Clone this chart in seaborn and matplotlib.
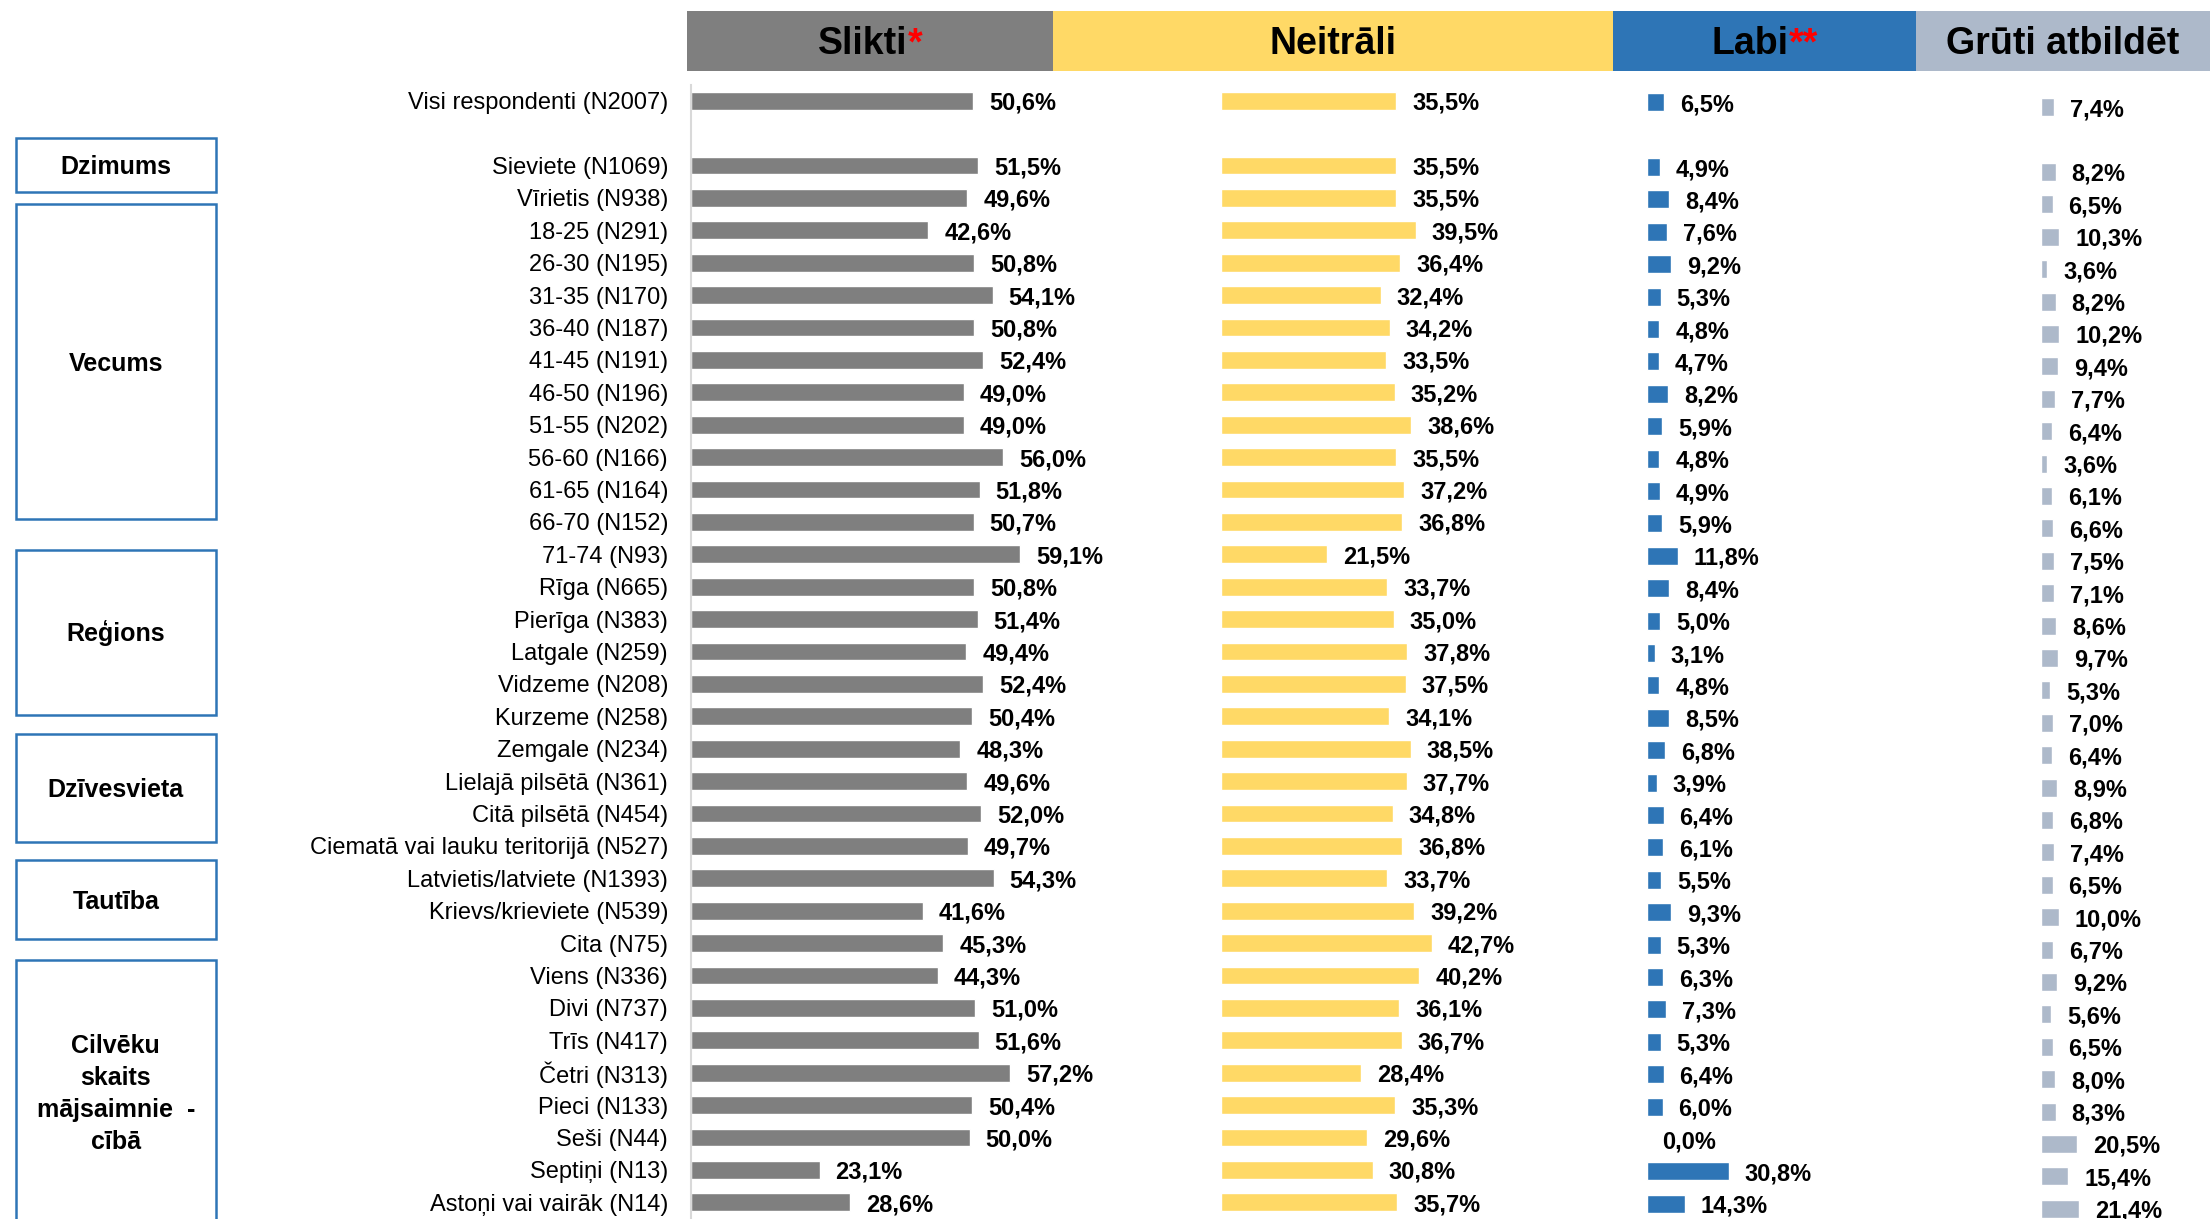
import matplotlib
matplotlib.use("Agg")
import matplotlib.pyplot as plt
import seaborn as sns
import pandas as pd
from matplotlib.patches import Rectangle

# ---------------- data ----------------
labels = [
    "Visi respondenti (N2007)",
    "Sieviete (N1069)", "Vīrietis (N938)",
    "18-25 (N291)", "26-30 (N195)", "31-35 (N170)", "36-40 (N187)", "41-45 (N191)",
    "46-50 (N196)", "51-55 (N202)", "56-60 (N166)", "61-65 (N164)", "66-70 (N152)",
    "71-74 (N93)",
    "Rīga (N665)", "Pierīga (N383)", "Latgale (N259)", "Vidzeme (N208)",
    "Kurzeme (N258)", "Zemgale (N234)",
    "Lielajā pilsētā (N361)", "Citā pilsētā (N454)", "Ciematā vai lauku teritorijā (N527)",
    "Latvietis/latviete (N1393)", "Krievs/krieviete (N539)", "Cita (N75)",
    "Viens (N336)", "Divi (N737)", "Trīs (N417)", "Četri (N313)", "Pieci (N133)",
    "Seši (N44)", "Septiņi (N13)", "Astoņi vai vairāk (N14)",
]
slikti = [50.6, 51.5, 49.6, 42.6, 50.8, 54.1, 50.8, 52.4, 49.0, 49.0, 56.0, 51.8, 50.7,
          59.1, 50.8, 51.4, 49.4, 52.4, 50.4, 48.3, 49.6, 52.0, 49.7, 54.3, 41.6, 45.3,
          44.3, 51.0, 51.6, 57.2, 50.4, 50.0, 23.1, 28.6]
neitrali = [35.5, 35.5, 35.5, 39.5, 36.4, 32.4, 34.2, 33.5, 35.2, 38.6, 35.5, 37.2, 36.8,
            21.5, 33.7, 35.0, 37.8, 37.5, 34.1, 38.5, 37.7, 34.8, 36.8, 33.7, 39.2, 42.7,
            40.2, 36.1, 36.7, 28.4, 35.3, 29.6, 30.8, 35.7]
labi = [6.5, 4.9, 8.4, 7.6, 9.2, 5.3, 4.8, 4.7, 8.2, 5.9, 4.8, 4.9, 5.9, 11.8, 8.4, 5.0,
        3.1, 4.8, 8.5, 6.8, 3.9, 6.4, 6.1, 5.5, 9.3, 5.3, 6.3, 7.3, 5.3, 6.4, 6.0, 0.0,
        30.8, 14.3]
gruti = [7.4, 8.2, 6.5, 10.3, 3.6, 8.2, 10.2, 9.4, 7.7, 6.4, 3.6, 6.1, 6.6, 7.5, 7.1, 8.6,
         9.7, 5.3, 7.0, 6.4, 8.9, 6.8, 7.4, 6.5, 10.0, 6.7, 9.2, 5.6, 6.5, 8.0, 8.3, 20.5,
         15.4, 21.4]

series_names = ["Slikti", "Neitrāli", "Labi", "Grūti atbildēt"]
header_marks = ["*", "", "**", ""]
group_names = ["Dzimums", "Vecums", "Reģions", "Dzīvesvieta", "Tautība",
               "Cilvēku\nskaits\nmājsaimnie  -\ncībā"]

# ---------------- style ----------------
sns.set_style("white")
plt.rcParams["font.family"] = ["Liberation Sans", "DejaVu Sans"]
plt.rcParams["text.color"] = "black"
plt.rcParams["ytick.color"] = "black"

W, H = 2210, 1219
fig = plt.figure(figsize=(W / 100, H / 100), dpi=100)


def fr(x0, y0, x1, y1):
    """pixel box (origin top-left) -> figure rect"""
    return [x0 / W, 1 - y1 / H, (x1 - x0) / W, (y1 - y0) / H]


df = pd.DataFrame({"label": labels, series_names[0]: slikti, series_names[1]: neitrali,
                   series_names[2]: labi, series_names[3]: gruti})
order = [labels[0], " "] + labels[1:]
nrows = len(order)
step = 32.4

colors = ["#7F7F7F", "#FFD966", "#2E75B6", "#ADB9CA"]
# (left px, right px, top px) of each panel's plotting area
panels = [(690.7, 1053, 84.5), (1221, 1613, 84.5), (1646.5, 1916, 86), (2041, 2210, 91)]
px_per_pct = [5.58, 4.93, 2.67, 1.78]


def fmt(v):
    return f"{v:.1f}".replace(".", ",") + "%"


for i, name in enumerate(series_names):
    x0, x1, top = panels[i]
    ax = fig.add_axes(fr(x0, top, x1, top + nrows * step))
    sns.barplot(data=df, x=name, y="label", order=order, orient="h", color=colors[i],
                saturation=1, width=0.55, errorbar=None, ax=ax)
    ax.set_xlim(0, (x1 - x0) / px_per_pct[i])
    ax.set_ylim(nrows - 0.5, -0.5)
    ax.set_xticks([])
    ax.set_xlabel("")
    ax.set_ylabel("")
    ax.patch.set_alpha(0)
    for s in ax.spines.values():
        s.set_visible(False)
    if i == 0:
        ax.spines["left"].set_visible(True)
        ax.spines["left"].set_color("#D9D9D9")
        ax.spines["left"].set_linewidth(1.5)
        ax.tick_params(axis="y", length=0, pad=16.3, labelsize=17, labelcolor="black")
    else:
        ax.tick_params(axis="y", left=False, labelleft=False)
    for cont in ax.containers:
        texts = ax.bar_label(cont, fmt=fmt, padding=11.5, fontsize=17,
                             fontweight="bold", color="black")
        for t in texts:
            t.set_verticalalignment("center_baseline")

# ---------------- header ----------------
header_x = [(687, 1053), (1053, 1613), (1613, 1916), (1916, 2210)]
renderer = fig.canvas.get_renderer()
for (hx0, hx1), name, mark, c in zip(header_x, series_names, header_marks, colors):
    fig.add_artist(Rectangle((hx0 / W, 1 - 70.5 / H), (hx1 - hx0) / W, 59.5 / H,
                             transform=fig.transFigure, facecolor=c, edgecolor="none"))
    kw = dict(fontsize=27, fontweight="bold", va="baseline", ha="left")
    t1 = fig.text(0, 0, name, color="black", **kw)
    w1 = t1.get_window_extent(renderer).width
    w2 = 0
    t2 = None
    if mark:
        t2 = fig.text(0, 0, mark, color="#FF0000", **kw)
        w2 = t2.get_window_extent(renderer).width
    cx = (hx0 + hx1) / 2
    start = cx - (w1 + w2) / 2
    t1.set_position((start / W, 1 - 54.5 / H))
    if t2 is not None:
        t2.set_position(((start + w1) / W, 1 - 54.5 / H))

# ---------------- group boxes ----------------
boxes = [(138.3, 191.7), (204, 519.3), (550, 715), (734, 841.7), (860, 939.3), (960, 1224)]
bx0, bx1 = 15.7, 216
for (by0, by1), g in zip(boxes, group_names):
    fig.add_artist(Rectangle((bx0 / W, 1 - by1 / H), (bx1 - bx0) / W, (by1 - by0) / H,
                             transform=fig.transFigure, facecolor="white",
                             edgecolor="#2E75B6", linewidth=1.8))
    lines = g.split("\n")
    if len(lines) == 1:
        base = [(by0 + by1) / 2 + 9]
    else:
        base = [1053 + 32 * k for k in range(len(lines))]
    for ln, b in zip(lines, base):
        fig.text((bx0 + bx1) / 2 / W, 1 - b / H, ln, ha="center", va="baseline",
                 fontsize=18, fontweight="bold", color="black")

fig.savefig("out.png", dpi=100)
